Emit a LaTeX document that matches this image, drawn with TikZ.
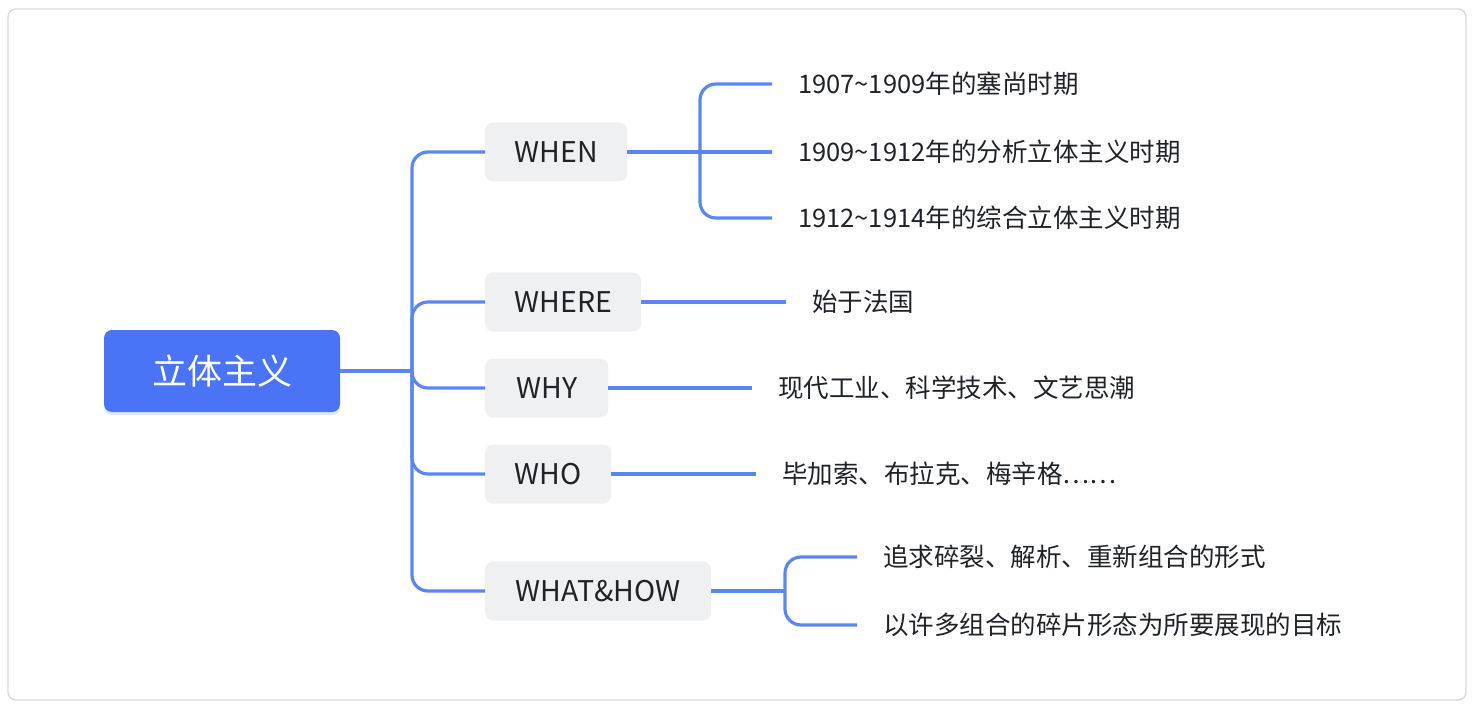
\documentclass[tikz,border=0pt]{standalone}
\usepackage{fontspec}
\setmainfont{Noto Sans CJK SC}
\usepackage{tikz}
\usetikzlibrary{positioning, calc, shadows}

\definecolor{rootblue}{HTML}{4A74F5}
\definecolor{linkblue}{HTML}{5B86F1}
\definecolor{boxgray}{HTML}{EFF0F2}
\definecolor{inkdark}{HTML}{1F2329}
\definecolor{framegray}{HTML}{DADADA}

\tikzset{
    rootbox/.style={fill=rootblue, rounded corners=8pt, text=white, minimum width=236pt, minimum height=82pt,
        font=\fontsize{35pt}{40pt}\selectfont, drop shadow={opacity=0.18, shadow xshift=0pt, shadow yshift=-3pt, fill=rootblue}},
    topicbox/.style={fill=boxgray, rounded corners=8pt, text=inkdark, minimum height=59pt, anchor=west,
        font=\fontsize{28.5pt}{32pt}\selectfont},
    leaftext/.style={anchor=west, inner xsep=26pt, inner ysep=0pt, text=inkdark, font=\fontsize{25.5pt}{30pt}\selectfont},
    link/.style={draw=linkblue, line width=3.2pt, rounded corners=16pt}
}

\begin{document}
\begin{tikzpicture}[x=1pt, y=-1pt]
\useasboundingbox (0,0) rectangle (1476,714);
\draw[framegray, line width=1.4pt, rounded corners=8pt] (8,9) rectangle (1466,700);

% Root
\node[rootbox] (root) at (222,371) {立体主义};
\coordinate (hub) at (412,371);

% Topics
\node[topicbox, minimum width=142pt] (when) at (485,152) {WHEN};
\node[topicbox, minimum width=156pt] (where) at (485,302) {WHERE};
\node[topicbox, minimum width=123pt] (why) at (485,388) {WHY};
\node[topicbox, minimum width=126pt] (who) at (485,474) {WHO};
\node[topicbox, minimum width=226pt] (whathow) at (485,591) {WHAT\&HOW};

\draw[link] (root.east) -- (hub);
\foreach \t in {when,where,why,who,whathow} {
    \draw[link] (hub) |- (\t.west);
}

% WHEN leaves
\coordinate (whenfork) at (700,152);
\node[leaftext] (when1) at (772,84) {1907\textasciitilde1909年的塞尚时期};
\node[leaftext] (when2) at (772,152) {1909\textasciitilde1912年的分析立体主义时期};
\node[leaftext] (when3) at (772,218) {1912\textasciitilde1914年的综合立体主义时期};
\draw[link] (when.east) -- (when2.west);
\foreach \l in {when1,when3} {
    \draw[link] (whenfork) |- (\l.west);
}

% single leaves
\node[leaftext] (where1) at (786,302) {始于法国};
\node[leaftext] (why1) at (752,388) {现代工业、科学技术、文艺思潮};
\node[leaftext] (who1) at (756,474) {毕加索、布拉克、梅辛格……};
\draw[link] (where.east) -- (where1.west);
\draw[link] (why.east) -- (why1.west);
\draw[link] (who.east) -- (who1.west);

% WHAT&HOW leaves
\coordinate (whatfork) at (785,591);
\node[leaftext] (what1) at (857,557) {追求碎裂、解析、重新组合的形式};
\node[leaftext] (what2) at (857,625) {以许多组合的碎片形态为所要展现的目标};
\draw[link] (whathow.east) -- (whatfork);
\foreach \l in {what1,what2} {
    \draw[link] (whatfork) |- (\l.west);
}
\end{tikzpicture}
\end{document}
